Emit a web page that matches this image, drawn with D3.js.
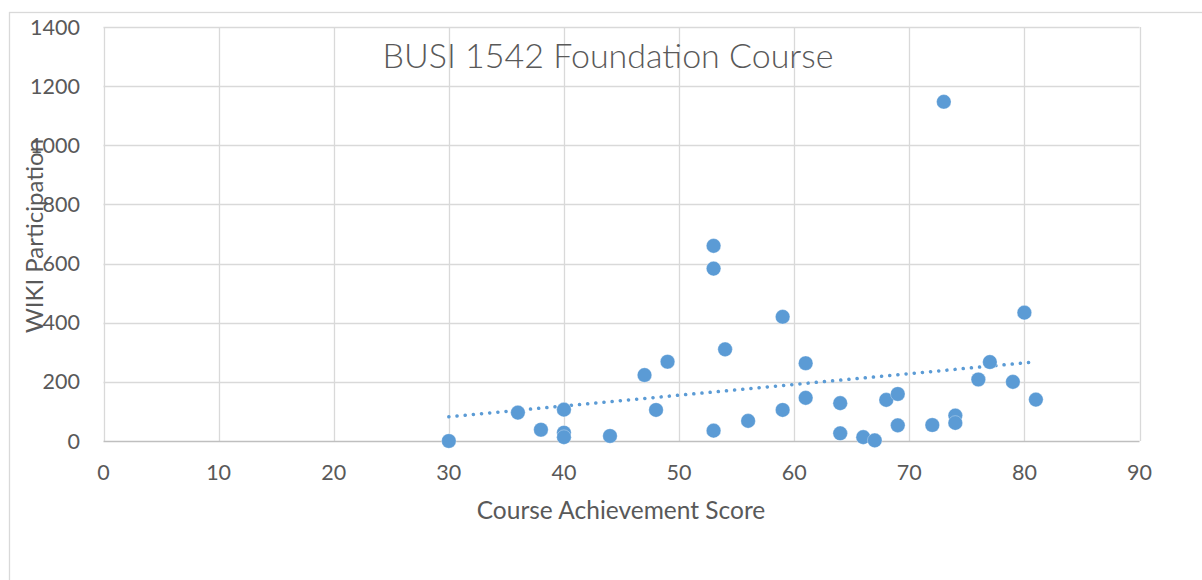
<!DOCTYPE html>
<html>
<head>
<meta charset="utf-8">
<script src="https://cdn.jsdelivr.net/npm/d3@7"></script>
<style>
	body { margin: 0; background: #fff; }
	text { font-family: Lato, "Open Sans", sans-serif; fill: #595959; }
</style>
</head>
<body>
<svg id="chart" width="1202" height="580"></svg>
<script>
// course achievement score vs wiki participation (one entry per student)
var scores = [30, 36, 38, 40, 40, 40, 44, 47, 48, 49, 53, 53, 53, 54, 56, 59, 59,
	61, 61, 64, 64, 66, 67, 68, 69, 69, 72, 73, 74, 74, 76, 77, 79, 80, 81];
var wiki = [0, 96, 38, 106, 28, 13, 17, 223, 105, 268, 660, 583, 35, 310, 68, 420, 105,
	263, 146, 128, 26, 13, 2, 139, 159, 53, 54, 1147, 86, 61, 208, 267, 200, 434, 140];
var xTicks = [0, 10, 20, 30, 40, 50, 60, 70, 80, 90];
var yTicks = [0, 200, 400, 600, 800, 1000, 1200, 1400];

var chartTitle = 'BUSI 1542 Foundation Course',
	xTitle = 'Course Achievement Score',
	yTitle = 'WIKI Participation';

var svg = d3.select('#chart'),
	plotL = 103.5, plotR = 1139.5, plotT = 27, plotB = 441,
	blue = '#5B9BD5';

var x = d3.scaleLinear().domain([0, 90]).range([plotL, plotR]);
var y = d3.scaleLinear().domain([0, 1400]).range([plotB, plotT]);

// chart frame (runs off the right / bottom of the picture)
svg.append('rect')
	.attr('x', 9.5).attr('y', 12.5)
	.attr('width', 1230).attr('height', 620)
	.attr('fill', 'none')
	.attr('stroke', '#D9D9D9')
	.attr('stroke-width', 1.3);

// gridlines
svg.append('g')
	.selectAll('line')
	.data(yTicks.slice(1))
	.join('line')
		.attr('x1', plotL).attr('x2', plotR)
		.attr('y1', function (d) { return Math.round(y(d)) + 0.5; })
		.attr('y2', function (d) { return Math.round(y(d)) + 0.5; })
		.attr('stroke', '#D9D9D9')
		.attr('stroke-width', 1.3);

svg.append('g')
	.selectAll('line')
	.data(xTicks)
	.join('line')
		.attr('y1', plotT).attr('y2', plotB)
		.attr('x1', function (d) { return Math.round(x(d)) + 0.5; })
		.attr('x2', function (d) { return Math.round(x(d)) + 0.5; })
		.attr('stroke', '#D9D9D9')
		.attr('stroke-width', 1.3);

// x axis line
svg.append('line')
	.attr('x1', plotL).attr('x2', plotR)
	.attr('y1', plotB + 0.5).attr('y2', plotB + 0.5)
	.attr('stroke', '#BFBFBF')
	.attr('stroke-width', 1.5);

// tick labels
svg.append('g')
	.selectAll('text')
	.data(xTicks)
	.join('text')
		.attr('x', function (d) { return x(d); })
		.attr('y', 480)
		.attr('text-anchor', 'middle')
		.style('font-size', '21.5px')
		.text(function (d) { return d; });

svg.append('g')
	.selectAll('text')
	.data(yTicks)
	.join('text')
		.attr('x', 80)
		.attr('y', function (d) { return y(d) + 7.5; })
		.attr('text-anchor', 'end')
		.style('font-size', '21.5px')
		.text(function (d) { return d; });

// titles
svg.append('text')
	.attr('x', 608).attr('y', 68)
	.attr('text-anchor', 'middle')
	.style('font-size', '34px')
	.style('font-weight', 300)
	.text(chartTitle);

svg.append('text')
	.attr('x', 621).attr('y', 519)
	.attr('text-anchor', 'middle')
	.style('font-size', '24.5px')
	.text(xTitle);

svg.append('text')
	.attr('transform', 'translate(43,236) rotate(-90)')
	.attr('text-anchor', 'middle')
	.style('font-size', '24px')
	.text(yTitle);

// linear trendline (least squares)
var mx = d3.mean(scores),
	my = d3.mean(wiki),
	sxy = 0, sxx = 0;

scores.forEach(function (s, i) {
	sxy += (s - mx) * (wiki[i] - my);
	sxx += (s - mx) * (s - mx);
});

var slope = sxy / sxx,
	icpt = my - slope * mx,
	xr = d3.extent(scores);

svg.append('line')
	.attr('x1', x(xr[0])).attr('y1', y(icpt + slope * xr[0]))
	.attr('x2', x(xr[1])).attr('y2', y(icpt + slope * xr[1]))
	.attr('stroke', blue)
	.attr('stroke-width', 3.5)
	.attr('stroke-linecap', 'round')
	.attr('stroke-dasharray', '0.1 8.1');

// points
svg.append('g')
	.selectAll('circle')
	.data(scores)
	.join('circle')
		.attr('cx', function (d) { return x(d); })
		.attr('cy', function (d, i) { return y(wiki[i]); })
		.attr('r', 7.3)
		.attr('fill', blue)
		.attr('stroke', '#fff')
		.attr('stroke-opacity', 0.4)
		.attr('stroke-width', 0.8);
</script>
</body>
</html>
